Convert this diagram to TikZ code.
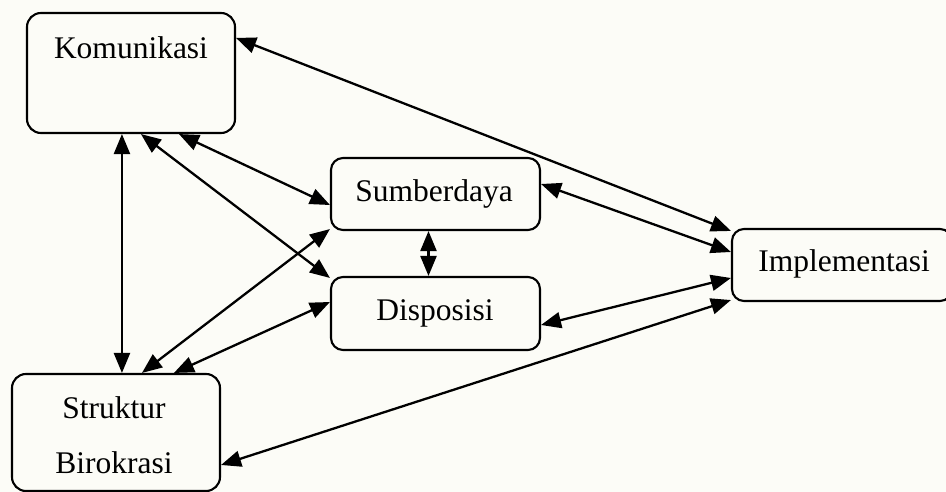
\documentclass[tikz,border=0pt]{standalone}
\usepackage{fontspec}
\setmainfont{Liberation Serif}
\usetikzlibrary{arrows.meta}
\definecolor{paper}{RGB}{252,252,247}
\begin{document}
\begin{tikzpicture}[x=1pt,y=-1pt,
  box/.style={draw, line width=2.1pt, rounded corners=14pt, inner sep=0pt},
  lbl/.style={font=\fontsize{31.5}{38}\selectfont, inner sep=0pt, anchor=base},
  link/.style={{Triangle[length=20pt,width=16pt]}-{Triangle[length=20pt,width=16pt]}, line width=2.3pt}]
  % canvas
  \fill[paper] (0,0) rectangle (946,492);
  \useasboundingbox (0,0) rectangle (946,492);
  \begin{scope}
  \clip (0,0) rectangle (946,492);
  % boxes
  \node[box, minimum width=208pt, minimum height=120pt] (kom) at (131,73) {};
  \node[box, minimum width=209pt, minimum height=72pt, rounded corners=12pt] (sum) at (435.5,194) {};
  \node[box, minimum width=209pt, minimum height=73pt, rounded corners=12pt] (dis) at (435.5,313.5) {};
  \node[box, minimum width=220pt, minimum height=72pt, rounded corners=12pt] (imp) at (842,265) {};
  \node[box, minimum width=208pt, minimum height=117pt] (str) at (116,432.5) {};
  \end{scope}
  % labels
  \node[lbl] (komt) at (131,59) {Komunikasi};
  \node[lbl] (sumt) at (434,202) {Sumberdaya};
  \node[lbl] (dist) at (435,320) {Disposisi};
  \node[lbl] (impt) at (844,272) {Implementasi};
  \node[lbl] (strt1) at (114,418) {Struktur};
  \node[lbl] (strt2) at (114,473) {Birokrasi};
  % connectors
  \draw[link] ([yshift=-26pt]kom.north east) -- ([yshift=-3pt]imp.north west);
  \draw[link] ([xshift=153pt]kom.south west) -- ([yshift=-11pt]sum.west);
  \draw[link] ([xshift=115pt]kom.south west) -- ([yshift=-2pt]dis.north west);
  \draw[link] ([xshift=96pt]kom.south west) -- ([xshift=111pt]str.north west);
  \draw[link] ([xshift=131pt]str.north west) -- ([yshift=2pt]sum.south west);
  \draw[link] ([xshift=163pt]str.north west) -- ([yshift=11.5pt]dis.west);
  \draw[link] ([yshift=10pt]sum.east) -- ([yshift=13pt]imp.west);
  \draw[link] ([yshift=-11.5pt]dis.east) -- ([yshift=-13pt]imp.west);
  \draw[link] ([yshift=-32.5pt]str.east) -- ([yshift=2pt]imp.south west);
  \draw[link] ([xshift=-7pt]sum.south) -- ([xshift=-7pt]dis.north);
\end{tikzpicture}
\end{document}
